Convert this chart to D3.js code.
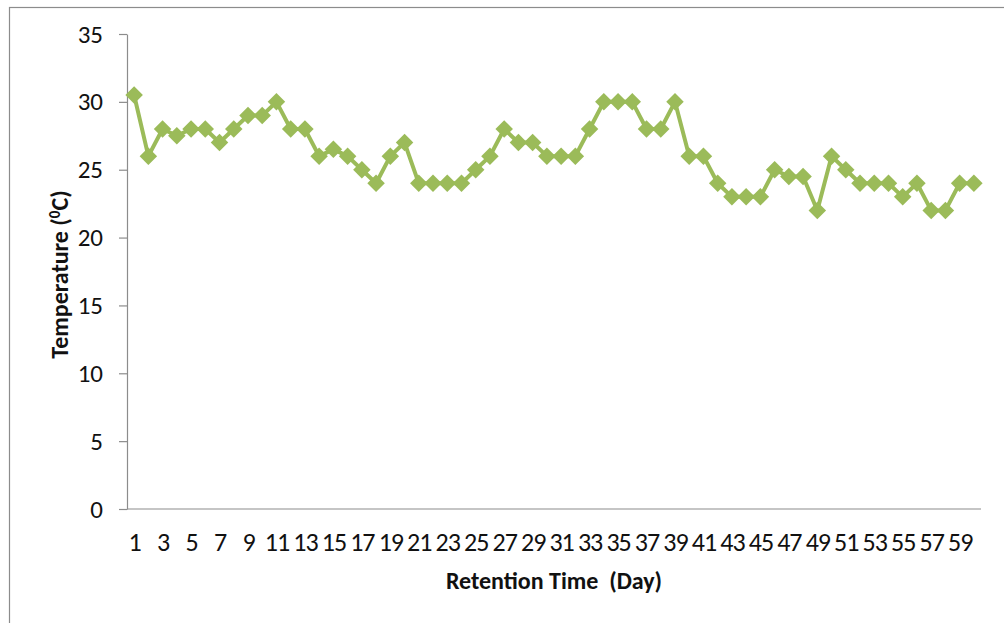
<!DOCTYPE html>
<html>
<head>
<meta charset="utf-8">
<script src="https://cdn.jsdelivr.net/npm/d3@7"></script>
<style>
  body { margin: 0; background: #fff; }
  svg { display: block; }
</style>
</head>
<body>
<div id="chart"></div>
<script>
var days = d3.range(1, 61);
var temperature = [
  30.5, 26, 28, 27.5, 28, 28, 27, 28, 29, 29,
  30, 28, 28, 26, 26.5, 26, 25, 24, 26, 27,
  24, 24, 24, 24, 25, 26, 28, 27, 27, 26,
  26, 26, 28, 30, 30, 30, 28, 28, 30, 26,
  26, 24, 23, 23, 23, 25, 24.5, 24.5, 22, 26,
  25, 24, 24, 24, 23, 24, 22, 22, 24, 24
];
var yTicks = [0, 5, 10, 15, 20, 25, 30, 35];
var xLabels = days.filter(function(d) { return d % 2 == 1; });

var W = 1004, H = 623;
var margin = {top: 34, right: 23, bottom: 114, left: 127};
var green = "#9bbb59";
var font = "Carlito, Calibri, Lato, sans-serif";

var svg = d3.select("#chart")
  .append("svg")
    .attr("width", W)
    .attr("height", H);

// outer chart border (only left and top fall inside the frame)
svg.append("rect")
  .attr("x", 9.5).attr("y", 7.5)
  .attr("width", W + 20).attr("height", H + 20)
  .attr("fill", "none")
  .attr("stroke", "#8c8c8c")
  .attr("stroke-width", 1.2);

var x = d3.scalePoint()
  .domain(days)
  .range([margin.left, W - margin.right])
  .padding(0.5);

var y = d3.scaleLinear()
  .domain([0, 35])
  .range([H - margin.bottom, margin.top]);

// y axis
var yAxis = svg.append("g")
  .attr("transform", "translate(" + margin.left + ",0)")
  .call(d3.axisLeft(y).tickValues(yTicks).tickSize(8).tickPadding(16).tickSizeOuter(0));
yAxis.select(".domain").attr("stroke", "#8c8c8c").attr("stroke-width", 1.2);
yAxis.selectAll(".tick line").attr("stroke", "#8c8c8c").attr("stroke-width", 1.2);
yAxis.selectAll(".tick text")
  .attr("font-family", font)
  .attr("font-size", "25px")
  .attr("fill", "#111");

// x axis: line only, labels on odd days
var xAxis = svg.append("g")
  .attr("transform", "translate(0," + y(0) + ")")
  .call(d3.axisBottom(x).tickValues(xLabels).tickSize(0).tickPadding(24));
xAxis.select(".domain")
  .attr("d", "M" + margin.left + ",0H" + (W - margin.right))
  .attr("stroke", "#8c8c8c").attr("stroke-width", 1.2);
xAxis.selectAll(".tick text")
  .attr("font-family", font)
  .attr("font-size", "26px")
  .attr("letter-spacing", "-1px")
  .attr("fill", "#111");

// series line
var line = d3.line()
  .x(function(d, i) { return x(days[i]); })
  .y(function(d) { return y(d); });

svg.append("path")
  .datum(temperature)
  .attr("d", line)
  .attr("fill", "none")
  .attr("stroke", green)
  .attr("stroke-width", 4)
  .attr("stroke-linejoin", "round");

// diamond markers
svg.selectAll(".marker")
  .data(temperature)
  .enter()
  .append("path")
    .attr("class", "marker")
    .attr("d", d3.symbol().type(d3.symbolDiamond2).size(195))
    .attr("transform", function(d, i) { return "translate(" + x(days[i]) + "," + y(d) + ")"; })
    .attr("fill", green);

// x axis title
svg.append("text")
  .attr("x", (margin.left + W - margin.right) / 2)
  .attr("y", 589)
  .attr("text-anchor", "middle")
  .attr("font-family", font)
  .attr("font-size", "24px")
  .attr("font-weight", "bold")
  .attr("fill", "#111")
  .text("Retention Time\u00a0 (Day)");

// y axis title
var yt = svg.append("text")
  .attr("transform", "translate(68," + ((y(0) + y(35)) / 2 + 3) + ") rotate(-90)")
  .attr("text-anchor", "middle")
  .attr("font-family", font)
  .attr("font-size", "24px")
  .attr("font-weight", "bold")
  .attr("fill", "#111");
yt.append("tspan").text("Temperature (");
yt.append("tspan").attr("dy", -8).attr("font-size", "15px").text("0");
yt.append("tspan").attr("dy", 8).text("C)");
</script>
</body>
</html>
